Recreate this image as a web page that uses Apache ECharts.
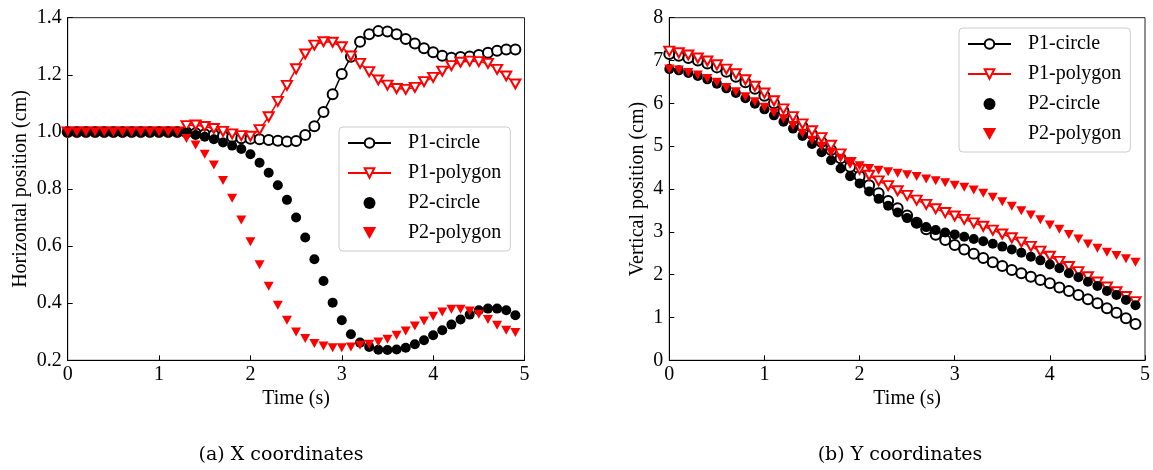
<!DOCTYPE html>
<html><head><meta charset="utf-8">
<script src="https://cdn.jsdelivr.net/npm/echarts@6/dist/echarts.min.js"></script>
<style>html,body{margin:0;padding:0;background:#fff}#c{width:1153px;height:470px}</style>
</head><body><div id="c"></div><script>
// time samples (s)
const time = [0.0,0.1,0.2,0.3,0.4,0.5,0.6,0.7,0.8,0.9,1.0,1.1,1.2,1.3,1.4,1.5,1.6,1.7,1.8,1.9,2.0,2.1,2.2,2.3,2.4,2.5,2.6,2.7,2.8,2.9,3.0,3.1,3.2,3.3,3.4,3.5,3.6,3.7,3.8,3.9,4.0,4.1,4.2,4.3,4.4,4.5,4.6,4.7,4.8,4.9];
const seriesNames = ['P1-circle','P1-polygon','P2-circle','P2-polygon'];
// (a) horizontal position (cm)
const xP1circle = [1.0,1.0,1.0,1.0,1.0,1.0,1.0,1.0,1.0,1.0,1.0,1.0,1.0,0.999,0.995,0.992,0.989,0.986,0.982,0.978,0.976,0.974,0.972,0.969,0.966,0.968,0.989,1.020,1.070,1.132,1.203,1.263,1.316,1.342,1.353,1.352,1.342,1.325,1.310,1.293,1.279,1.267,1.260,1.262,1.264,1.269,1.277,1.284,1.289,1.289];
const xP1polygon = [1.0,1.0,1.0,1.0,1.0,1.0,1.0,1.0,1.0,1.0,1.0,1.0,1.0,1.022,1.024,1.019,1.012,1.002,0.993,0.987,0.985,1.008,1.053,1.107,1.163,1.221,1.273,1.304,1.316,1.314,1.298,1.266,1.240,1.211,1.182,1.164,1.152,1.149,1.156,1.176,1.191,1.213,1.232,1.244,1.248,1.246,1.240,1.219,1.196,1.168];
const xP2circle = [1.0,1.0,1.0,1.0,1.0,1.0,1.0,1.0,1.0,1.0,1.0,1.0,1.0,0.996,0.989,0.983,0.974,0.963,0.952,0.940,0.922,0.892,0.857,0.813,0.762,0.700,0.630,0.554,0.478,0.402,0.340,0.291,0.262,0.247,0.237,0.236,0.238,0.244,0.256,0.270,0.288,0.305,0.325,0.343,0.360,0.375,0.381,0.381,0.375,0.358];
const xP2polygon = [1.0,1.0,1.0,1.0,1.0,1.0,1.0,1.0,1.0,1.0,1.0,1.0,1.0,0.977,0.954,0.922,0.884,0.830,0.768,0.691,0.615,0.535,0.459,0.393,0.340,0.299,0.276,0.259,0.250,0.244,0.244,0.247,0.253,0.256,0.264,0.274,0.288,0.303,0.320,0.338,0.354,0.369,0.379,0.379,0.373,0.361,0.343,0.323,0.305,0.297];
// (b) vertical position (cm)
const yP1circle = [7.15,7.11,7.06,7.00,6.93,6.84,6.74,6.62,6.49,6.34,6.18,6.00,5.82,5.64,5.46,5.28,5.10,4.91,4.72,4.52,4.30,4.09,3.90,3.72,3.55,3.38,3.21,3.06,2.93,2.81,2.69,2.59,2.49,2.39,2.29,2.20,2.11,2.03,1.95,1.875,1.80,1.70,1.62,1.525,1.425,1.33,1.215,1.11,0.98,0.845];
const yP1polygon = [7.22,7.18,7.13,7.06,6.99,6.90,6.80,6.69,6.55,6.40,6.24,6.06,5.87,5.69,5.52,5.36,5.20,5.02,4.82,4.62,4.46,4.32,4.19,4.08,3.96,3.85,3.74,3.64,3.54,3.45,3.37,3.29,3.21,3.13,3.04,2.95,2.86,2.76,2.66,2.55,2.43,2.31,2.19,2.07,1.95,1.83,1.71,1.60,1.49,1.37];
const yP2circle = [6.80,6.77,6.71,6.64,6.56,6.46,6.35,6.24,6.12,5.99,5.86,5.72,5.57,5.41,5.24,5.05,4.86,4.67,4.48,4.30,4.13,3.94,3.77,3.61,3.45,3.32,3.20,3.11,3.04,2.985,2.94,2.886,2.832,2.78,2.72,2.655,2.587,2.513,2.419,2.334,2.237,2.148,2.031,1.938,1.835,1.735,1.618,1.525,1.41,1.285];
const yP2polygon = [6.80,6.78,6.72,6.66,6.58,6.49,6.37,6.27,6.155,6.04,5.91,5.78,5.64,5.48,5.30,5.14,5.00,4.85,4.72,4.61,4.54,4.48,4.44,4.40,4.37,4.33,4.29,4.235,4.19,4.145,4.09,4.04,3.976,3.90,3.81,3.70,3.60,3.49,3.39,3.28,3.16,3.06,2.94,2.83,2.715,2.615,2.525,2.45,2.37,2.29];
const captions = ['(a) X coordinates','(b) Y coordinates'];
const xName = 'Time (s)';
const yNames = ['Horizontal position (cm)','Vertical position (cm)'];

const F = 'Liberation Serif';
const pair = ys => time.map((t,i)=>[t, ys[i]]);
const chart = echarts.init(document.getElementById('c'), null, {renderer:'canvas'});
const TRI = [10,9];

function xAx(g){
  return {type:'value', gridIndex:g, min:0, max:5, interval:1,
    axisLine:{show:true, onZero:false, lineStyle:{color:'#000', width:1}},
    axisTick:{show:true, inside:true, length:5, lineStyle:{color:'#000'}},
    axisLabel:{margin:4, fontFamily:F, fontSize:20, color:'#000'},
    splitLine:{show:false},
    name:xName, nameLocation:'middle', nameGap:26,
    nameTextStyle:{fontFamily:F, fontSize:20, color:'#000'}};
}
function yAx(g, min, max, interval, dec, gap){
  return {type:'value', gridIndex:g, min:min, max:max, interval:interval,
    axisLine:{show:true, onZero:false, lineStyle:{color:'#000', width:1}},
    axisTick:{show:true, inside:true, length:5, lineStyle:{color:'#000'}},
    axisLabel:{margin:6, fontFamily:F, fontSize:20, color:'#000', formatter: v => v.toFixed(dec)},
    splitLine:{show:false},
    name:yNames[g], nameLocation:'middle', nameGap:gap, nameRotate:90,
    nameTextStyle:{fontFamily:F, fontSize:20, color:'#000'}};
}
function lineS(name, data, g, color, sym, rot){
  return {name, type:'line', xAxisIndex:g, yAxisIndex:g, data:pair(data),
    symbol:sym, symbolSize: sym==='emptyCircle'?10:TRI, symbolRotate:rot||0,
    showSymbol:true, showAllSymbol:true,
    lineStyle:{color, width:1.5}, itemStyle:{color, borderWidth:1.2},
    animation:false, z:2};
}
function scatS(name, data, g, color, sym, rot){
  return {name, type:'scatter', xAxisIndex:g, yAxisIndex:g, data:pair(data),
    symbol:sym, symbolSize: sym==='circle'?10:TRI, symbolRotate:rot||0,
    itemStyle:{color, opacity:1}, animation:false, z:2};
}
function legend(left, top){
  return {orient:'vertical', left, top, selectedMode:false, symbolKeepAspect:true,
    data:[
      {name:seriesNames[0]},
      {name:seriesNames[1]},
      {name:seriesNames[2]},
      {name:seriesNames[3], icon:'path://M0,0L10,0L5,9Z', symbolRotate:0}
    ],
    itemWidth:43, itemHeight:12, itemGap:10, padding:[6,9,8,8],
    backgroundColor:'#fff', borderColor:'#cccccc', borderWidth:1, borderRadius:4,
    textStyle:{fontFamily:F, fontSize:20, color:'#000', lineHeight:20, padding:[0,0,0,12]}};
}

const option = {
  backgroundColor:'#fff',
  animation:false,
  grid:[
    {left:67.7, top:17.7, width:456.8, height:342.6, show:true, borderColor:'#222', borderWidth:1},
    {left:669.3, top:17.7, width:475.7, height:342.6, show:true, borderColor:'#222', borderWidth:1}
  ],
  xAxis:[xAx(0), xAx(1)],
  yAxis:[yAx(0,0.2,1.4,0.2,1,37), yAx(1,0,8,1,0,22)],
  legend:[legend(339,127), legend(959,28)],
  series:[
    lineS(seriesNames[0], xP1circle, 0, '#000', 'emptyCircle'),
    lineS(seriesNames[1], xP1polygon, 0, '#ff0000', 'emptyTriangle', 180),
    scatS(seriesNames[2], xP2circle, 0, '#000', 'circle'),
    scatS(seriesNames[3], xP2polygon, 0, '#ff0000', 'triangle', 180),
    lineS(seriesNames[0], yP1circle, 1, '#000', 'emptyCircle'),
    lineS(seriesNames[1], yP1polygon, 1, '#ff0000', 'emptyTriangle', 180),
    scatS(seriesNames[2], yP2circle, 1, '#000', 'circle'),
    scatS(seriesNames[3], yP2polygon, 1, '#ff0000', 'triangle', 180)
  ],
  graphic:[
    {type:'text', x:281, y:455, style:{text:captions[0], font:'19px "DejaVu Serif"', fill:'#000', textAlign:'center', textVerticalAlign:'middle'}},
    {type:'text', x:900, y:455, style:{text:captions[1], font:'19px "DejaVu Serif"', fill:'#000', textAlign:'center', textVerticalAlign:'middle'}}
  ]
};
chart.setOption(option);
</script></body></html>
